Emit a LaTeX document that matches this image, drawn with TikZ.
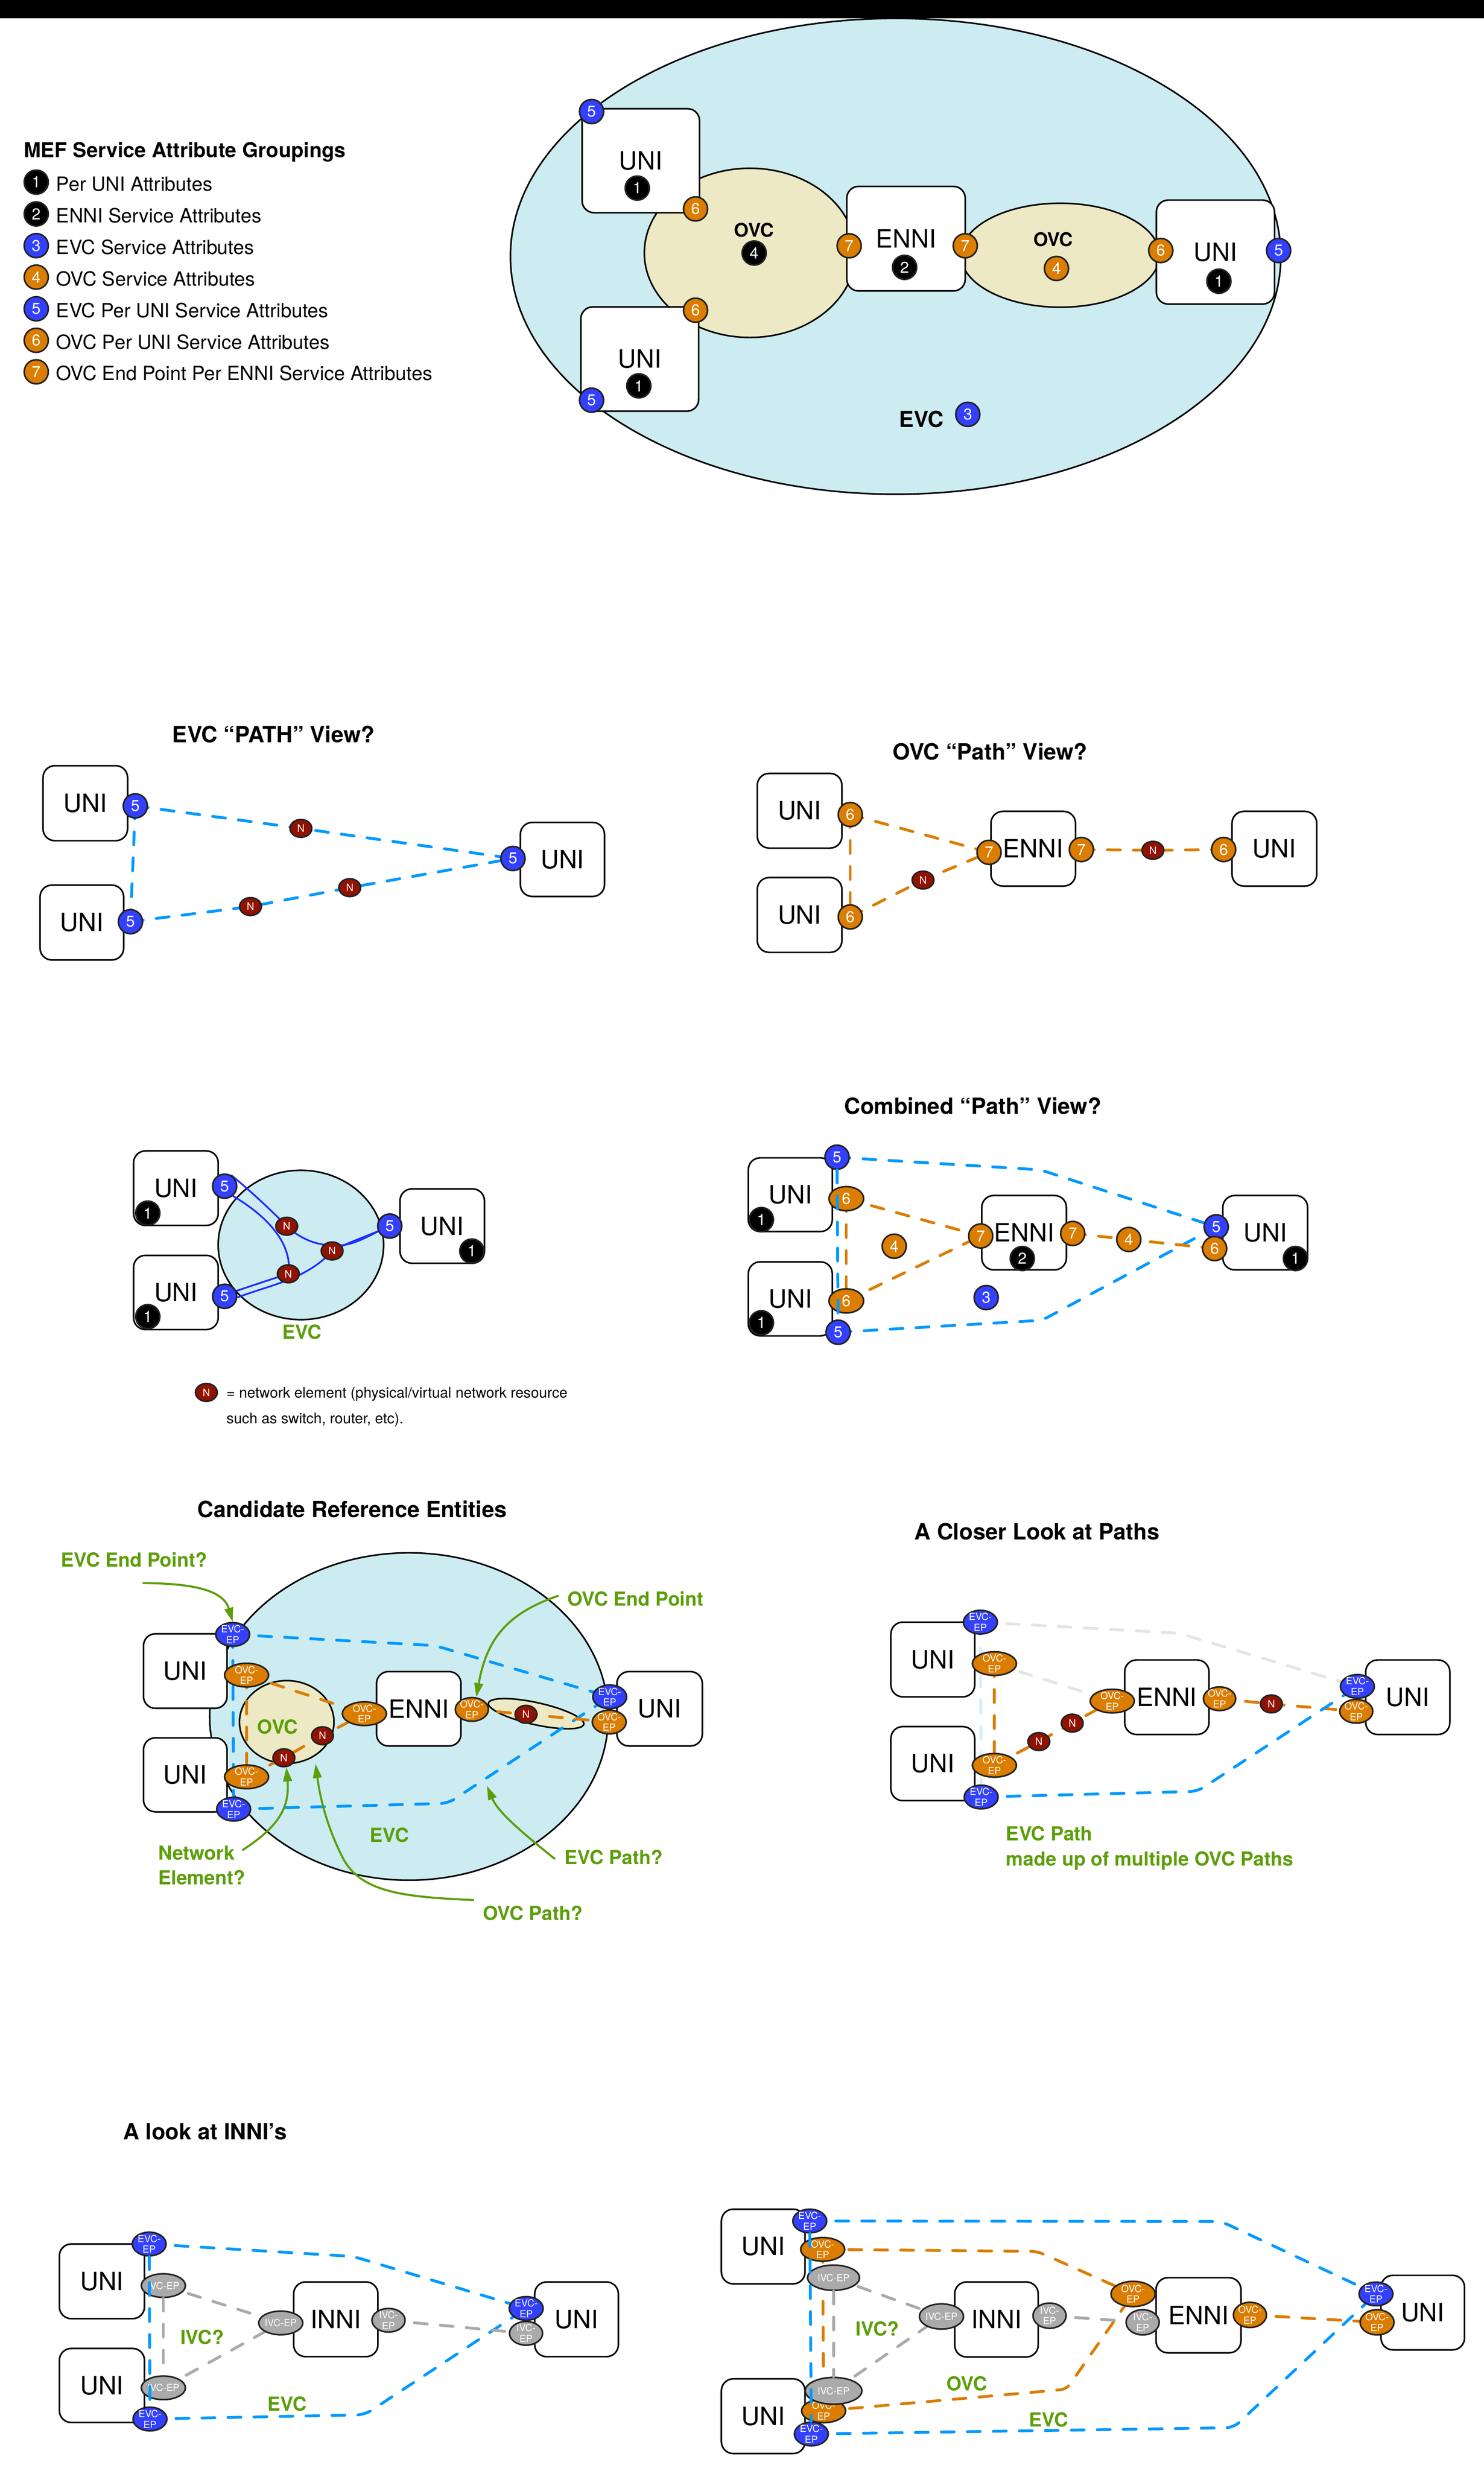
\documentclass[tikz,border=0pt]{standalone}
\usepackage{fontspec}
\setmainfont{TeX Gyre Heros}
\usetikzlibrary{shapes.geometric,arrows.meta}
\definecolor{evcfill}{RGB}{205,236,241}
\definecolor{ovcfill}{RGB}{237,233,197}
\definecolor{bblue}{RGB}{51,64,255}
\definecolor{borange}{RGB}{219,125,0}
\definecolor{nred}{RGB}{145,18,0}
\definecolor{dblue}{RGB}{0,153,255}
\definecolor{lgreen}{RGB}{92,158,10}
\definecolor{ivcgrey}{RGB}{170,170,170}
\definecolor{lgrey}{RGB}{228,228,228}
\definecolor{lblue}{RGB}{214,236,250}
\definecolor{bord}{RGB}{34,34,34}
\definecolor{cblue}{RGB}{30,45,255}
\pgfdeclarelayer{bg}
\pgfdeclarelayer{ln}
\pgfsetlayers{bg,ln,main}
\tikzset{
 box/.style={draw=black, line width=1pt, fill=white, rounded corners=7.5pt, inner sep=0pt, font=\fontsize{16}{16}\selectfont},
 badge/.style={circle, draw=bord, line width=1pt, inner sep=0pt, minimum size=15.3pt, text=white, font=\fontsize{10}{10}\selectfont},
 bk/.style={badge, fill=black},
 bb/.style={badge, fill=bblue},
 bo/.style={badge, fill=borange},
 boe/.style={badge, ellipse, fill=borange, minimum width=22pt, minimum height=15.3pt},
 nel/.style={ellipse, draw=bord, line width=1pt, fill=nred, inner sep=0pt, minimum width=13.8pt, minimum height=11.3pt, text=white, font=\fontsize{6.5}{6.5}\selectfont},
 eptxt/.style={text=white, font=\fontsize{6.2}{6.8}\selectfont, align=center, inner sep=0pt},
 ep/.style={ellipse, draw=bord, line width=1pt, inner sep=0pt, minimum height=15pt},
 evcep/.style={ep, fill=bblue, minimum width=21.5pt, label={[eptxt]center:{EVC-\\EP}}},
 ovcep/.style={ep, fill=borange, minimum width=#1, label={[eptxt]center:{OVC-\\EP}}},
 ovcep/.default=28pt,
 ivcone/.style={ep, fill=ivcgrey, minimum width=#1, label={[eptxt]center:{IVC-EP}}},
 ivcone/.default=28pt,
 ivctwo/.style={ep, fill=ivcgrey, minimum width=21pt, label={[eptxt]center:{IVC-\\EP}}},
 dsh/.style={line width=1.8pt, line cap=round, dash pattern=on 8.2pt off 8.3pt},
 evcd/.style={dsh, draw=dblue},
 ovcd/.style={dsh, draw=borange},
 ivcd/.style={dsh, draw=ivcgrey},
 lgd/.style={dsh, draw=lgrey},
 lbd/.style={dsh, draw=lblue},
 curv/.style={draw=cblue, line width=1.1pt},
 ttl/.style={font=\fontsize{14.2}{14.2}\selectfont\bfseries, inner sep=0pt},
 glab/.style={text=lgreen, font=\fontsize{12.3}{14}\selectfont\bfseries, inner sep=0pt},
 blab/.style={font=\fontsize{12}{12}\selectfont\bfseries, inner sep=0pt},
 lgtxt/.style={anchor=base west, inner sep=0pt, font=\fontsize{12.4}{12.4}\selectfont},
 region/.style={ellipse, draw=black, line width=1pt, inner sep=0pt},
 garrow/.style={draw=lgreen, line width=1.3pt, -{Triangle[length=9pt,width=5.5pt]}},
}
\begin{document}
\begin{tikzpicture}[x=1pt,y=-1pt]
\useasboundingbox (0,0) rectangle (941.85,1568.4);
\begin{pgfonlayer}{bg}
 \fill[black] (0,0) rectangle (941.85,11.6);
 \node[region, fill=evcfill, minimum width=489pt, minimum height=302pt] (tEVC) at (568.5,162.7) {};
 \node[region, fill=ovcfill, minimum width=134pt, minimum height=107.4pt] (tOVC1) at (476,160.5) {};
 \node[region, fill=ovcfill, minimum width=126pt, minimum height=66pt] (tOVC2) at (673,162) {};
 \node[region, fill=evcfill, minimum width=105pt, minimum height=94.8pt] (rEVC) at (191,790.2) {};
 \node[region, fill=evcfill, minimum width=253pt, minimum height=207.8pt] (cEVC) at (259.6,1089.5) {};
 \node[region, fill=ovcfill, minimum width=60pt, minimum height=52.6pt] (cOVC) at (182,1093) {};
 \node[region, fill=ovcfill, minimum width=62pt, minimum height=14pt, rotate=-12.5] (cOVC2) at (340.3,1087.7) {};
\end{pgfonlayer}

% ---------------- legend
\node[font=\fontsize{13}{13}\selectfont\bfseries, inner sep=0pt, anchor=base west] (lgT) at (15,100) {MEF Service Attribute Groupings};
\node[bk] (lg1) at (23,115.6) {1};
\node[lgtxt] (lgt1) at (35.5,121.1) {Per UNI Attributes};
\node[bk] (lg2) at (23,135.8) {2};
\node[lgtxt] (lgt2) at (35.5,141.3) {ENNI Service Attributes};
\node[bb] (lg3) at (23,155.9) {3};
\node[lgtxt] (lgt3) at (35.5,161.4) {EVC Service Attributes};
\node[bo] (lg4) at (23,175.9) {4};
\node[lgtxt] (lgt4) at (35.5,181.4) {OVC Service Attributes};
\node[bb] (lg5) at (23,196) {5};
\node[lgtxt] (lgt5) at (35.5,201.5) {EVC Per UNI Service Attributes};
\node[bo] (lg6) at (23,216) {6};
\node[lgtxt] (lgt6) at (35.5,221.5) {OVC Per UNI Service Attributes};
\node[bo] (lg7) at (23,236) {7};
\node[lgtxt] (lgt7) at (35.5,241.5) {OVC End Point Per ENNI Service Attributes};

% ---------------- top diagram
\node[box, minimum width=74.5pt, minimum height=66pt] (tU1) at (406.75,102) {UNI};
\node[box, minimum width=74.8pt, minimum height=66.2pt] (tU2) at (406.1,227.9) {UNI};
\node[box, minimum width=75.2pt, minimum height=66.4pt] (tE) at (575.1,151.5) {ENNI};
\node[box, minimum width=75pt, minimum height=66pt] (tU3) at (771.5,160) {UNI};
\node[bb] (t5a) at (375.5,70.8) {5};
\node[bk] (t1a) at (404.5,119.4) {1};
\node[bo] (t6a) at (441.5,132.6) {6};
\node[blab] (tOt1) at (478.7,145.9) {OVC};
\node[bk] (t4a) at (478.7,160.6) {4};
\node[bo] (t7a) at (539,156) {7};
\node[bk] (t2) at (574.2,169.7) {2};
\node[bo] (t7b) at (612.7,156) {7};
\node[blab] (tOt2) at (668.5,152) {OVC};
\node[bo] (t4b) at (670.6,170.4) {4};
\node[bo] (t6c) at (736.8,159) {6};
\node[bk] (t1c) at (773.7,178.5) {1};
\node[bb] (t5c) at (811.6,159) {5};
\node[bk] (t1b) at (405.5,244.9) {1};
\node[bb] (t5b) at (375.5,254) {5};
\node[bo] (t6b) at (441.5,196.9) {6};
\node[blab, font=\fontsize{14}{14}\selectfont\bfseries] (tEt) at (585,266) {EVC};
\node[bb] (t3) at (614.3,263) {3};

% ---------------- EVC PATH view
\node[ttl] (ttl2) at (173.6,466) {EVC “PATH” View?};
\node[box, minimum width=53.7pt, minimum height=47.6pt] (eU1) at (54.15,509.8) {UNI};
\node[box, minimum width=53.1pt, minimum height=47.5pt] (eU2) at (51.95,585.55) {UNI};
\node[box, minimum width=53.4pt, minimum height=47pt] (eU3) at (357,545.5) {UNI};
\node[bb] (e5a) at (85.9,511.5) {5};
\node[bb] (e5b) at (82.8,585) {5};
\node[bb] (e5c) at (325.6,544.9) {5};
\node[nel] (eN1) at (191,525.8) {N};
\node[nel] (eN2) at (222,563.4) {N};
\node[nel] (eN3) at (159,575.4) {N};
\begin{pgfonlayer}{ln}
 \draw[evcd] (e5a.center) -- (eN1.center) -- (e5c.center);
 \draw[evcd] (e5b.center) -- (eN3.center) -- (eN2.center) -- (e5c.center);
 \draw[evcd] (e5a.center) -- (e5b.center);
\end{pgfonlayer}

% ---------------- OVC Path view
\node[ttl] (ttl3) at (628.5,477) {OVC “Path” View?};
\node[box, minimum width=53.7pt, minimum height=47.4pt] (oU1) at (507.55,514.6) {UNI};
\node[box, minimum width=53.7pt, minimum height=47.5pt] (oU2) at (507.55,580.75) {UNI};
\node[box, minimum width=53.7pt, minimum height=47.4pt] (oE) at (655.85,538.7) {ENNI};
\node[box, minimum width=53.8pt, minimum height=47.4pt] (oU3) at (808.9,538.7) {UNI};
\node[bo] (o6a) at (539.7,517) {6};
\node[bo] (o6b) at (539.7,582) {6};
\node[bo] (o7a) at (627.8,541) {7};
\node[bo] (o7b) at (686.4,539.2) {7};
\node[nel] (oN1) at (731.8,539.7) {N};
\node[nel] (oN2) at (585.9,558.6) {N};
\node[bo] (o6c) at (776.7,539.2) {6};
\begin{pgfonlayer}{ln}
 \draw[ovcd] (o6a.center) -- (o7a.center);
 \draw[ovcd] (o6b.center) -- (oN2.center) -- (o7a.center);
 \draw[ovcd] (o7b.center) -- (oN1.center) -- (o6c.center);
 \draw[ovcd] (o6a.center) -- (o6b.center);
\end{pgfonlayer}

% ---------------- EVC with network elements
\node[box, minimum width=53.7pt, minimum height=47.3pt] (rU1) at (111.65,754.15) {UNI};
\node[box, minimum width=53.7pt, minimum height=47.1pt] (rU2) at (111.65,820.35) {UNI};
\node[box, minimum width=53.6pt, minimum height=47.2pt] (rU3) at (280.7,778.2) {UNI};
\node[bk] (r1a) at (93.8,770) {1};
\node[bb] (r5a) at (142.6,752.9) {5};
\node[bk] (r1b) at (93.8,835.7) {1};
\node[bb] (r5b) at (142.6,822.8) {5};
\node[bk] (r1c) at (299.5,794.1) {1};
\node[bb] (r5c) at (247.4,778.2) {5};
\node[nel] (rN1) at (182,778.3) {N};
\node[nel] (rN2) at (210.8,794) {N};
\node[nel] (rN3) at (183,808.5) {N};
\coordinate (rw1) at (217,790.3);
\begin{pgfonlayer}{ln}
 \draw[curv] (r5a.60) .. controls (158,755) and (172,768) .. (rN1.center) .. controls (195,790) and (207,791) .. (rw1) .. controls (227,789.5) and (236,783) .. (r5c.center);
 \draw[curv] (r5a.-50) .. controls (170,772) and (186,790) .. (rN3.center);
 \draw[curv] (r5b.25) .. controls (160,816) and (172,812) .. (rN3.center);
 \draw[curv] (r5b.-5) .. controls (170,816) and (195,812) .. (rN2.center) .. controls (222,788) and (235,784) .. (r5c.center);
\end{pgfonlayer}
\node[glab] (rEt) at (191.7,845.4) {EVC};
\node[nel] (lgN) at (131,883.8) {N};
\node[anchor=base west, inner sep=0pt, font=\fontsize{9.3}{9.3}\selectfont] (lgNt1) at (143.6,887.2) {= network element (physical/virtual network resource};
\node[anchor=base west, inner sep=0pt, font=\fontsize{9.3}{9.3}\selectfont] (lgNt2) at (143.6,903.4) {such as switch, router, etc).};

% ---------------- Combined path view
\node[ttl] (ttl5) at (617.5,702) {Combined “Path” View?};
\node[box, minimum width=53.3pt, minimum height=46.8pt] (sU1) at (501.65,758.3) {UNI};
\node[box, minimum width=53.3pt, minimum height=47pt] (sU2) at (501.65,824.4) {UNI};
\node[box, minimum width=53.7pt, minimum height=47.2pt] (sE) at (650.05,782.4) {ENNI};
\node[box, minimum width=53.8pt, minimum height=47.2pt] (sU3) at (803.1,782.4) {UNI};
\node[bb] (s5t) at (531.3,734.5) {5};
\node[boe] (s6t) at (537.2,760.8) {6};
\node[bk] (s1a) at (483.3,774.1) {1};
\node[bk] (s1b) at (483.3,839.6) {1};
\node[boe] (s6b) at (537.2,825.7) {6};
\node[bb] (s5b) at (532,845.6) {5};
\node[bo] (s4a) at (567.6,791) {4};
\node[bb] (s3) at (626,823.6) {3};
\node[bo] (s7a) at (622.5,784.5) {7};
\node[bo] (s7b) at (680.9,782.9) {7};
\node[bk] (s2) at (648.9,798.8) {2};
\node[bo] (s4b) at (716.5,786.7) {4};
\node[bb] (s5c) at (772,778.7) {5};
\node[bo] (s6c) at (771,792.5) {6};
\node[bk] (s1c) at (822.3,798.8) {1};
\coordinate (sc1) at (660.3,742.5);
\coordinate (sc2) at (661.4,838);
\begin{pgfonlayer}{ln}
 \draw[evcd, rounded corners=4pt] (s5t.center) -- (sc1) -- (s5c.center);
 \draw[evcd, rounded corners=4pt] (s5b.center) -- (sc2) -- (s5c.center);
 \draw[ovcd] (s6t.center) -- (s7a.center);
 \draw[ovcd] (s6b.center) -- (s7a.center);
 \draw[ovcd] (s7b.center) -- (s4b.center) -- (s6c.center);
 \draw[ovcd] (s6t.center) -- (s6b.center);
\end{pgfonlayer}
\draw[evcd] (s5t) -- (s5b);

% ---------------- Candidate reference entities
\node[ttl] (ttl6) at (223.5,958) {Candidate Reference Entities};
\node[box, minimum width=53pt, minimum height=47.3pt] (cU1) at (117.6,1060.65) {UNI};
\node[box, minimum width=53pt, minimum height=47pt] (cU2) at (117.6,1126.5) {UNI};
\node[box, minimum width=53.6pt, minimum height=47.2pt] (cE) at (265.8,1084.6) {ENNI};
\node[box, minimum width=54.2pt, minimum height=47.2pt] (cU3) at (418.7,1084.6) {UNI};
\node[evcep] (cEa) at (147.7,1037.4) {};
\node[ovcep] (cOa) at (156.5,1063.2) {};
\node[ovcep] (cOb) at (156.5,1127.8) {};
\node[evcep] (cEb) at (148.3,1148.3) {};
\node[nel] (cN1) at (204.7,1101.7) {N};
\node[nel] (cN2) at (180.2,1115.7) {N};
\node[ovcep] (cO1) at (231.3,1087.7) {};
\node[ovcep=21pt] (cO2) at (299.5,1085) {};
\node[nel] (cN3) at (333.9,1088.1) {N};
\node[evcep] (cEc) at (387,1077) {};
\node[ovcep=21.5pt] (cOc) at (386.7,1093) {};
\coordinate (cc1) at (276.2,1044.5);
\coordinate (cc2) at (284.4,1144.6);
\begin{pgfonlayer}{ln}
 \draw[evcd, rounded corners=5pt] (cEa.center) -- (cc1) -- (cEc.center);
 \draw[evcd, rounded corners=5pt] (cEb.center) -- (cc2) -- (cEc.center);
 \draw[evcd] (cEa.center) -- (cEb.center);
 \draw[ovcd] (cOa.center) -- (cO1.center);
 \draw[ovcd] (cOb.center) -- (cN2.center) -- (cN1.center) -- (cO1.center);
 \draw[ovcd] (cOa.center) -- (cOb.center);
 \draw[ovcd] (cO2.center) -- (cN3.center) -- (cOc.center);
\end{pgfonlayer}
\node[glab] (cOt) at (176.3,1096) {OVC};
\node[glab] (cEt) at (247.3,1164.6) {EVC};
\node[glab, anchor=west] (gl1) at (38.4,989.9) {EVC End Point?};
\node[glab, anchor=west] (gl2) at (360,1014.7) {OVC End Point};
\node[glab, anchor=base west] (gl3) at (100.2,1180.5) {Network};
\node[glab, anchor=base west] (gl3b) at (100.2,1196.1) {Element?};
\node[glab, anchor=base west] (gl4) at (358.1,1183.3) {EVC Path?};
\node[glab, anchor=base west] (gl5) at (306.4,1218.7) {OVC Path?};
\coordinate (aS1) at (90.5,1004.8);
\coordinate (aS2) at (354.5,1012.8);
\coordinate (aS3) at (153.8,1174.4);
\coordinate (aS4) at (352.3,1180);
\coordinate (aE4) at (309.1,1133.4);
\coordinate (aS5) at (300.9,1206);
\coordinate (aE5) at (200.3,1119.5);
\draw[garrow] (aS1) .. controls (125,1005) and (142,1010) .. (cEa.north);
\draw[garrow] (aS2) .. controls (322,1024) and (309,1040) .. (cO2.70);
\draw[garrow] (aS3) .. controls (176,1160) and (184,1148) .. (cN2.-75);
\draw[garrow] (aS4) .. controls (330,1162) and (316,1150) .. (aE4);
\draw[garrow] (aS5) .. controls (255,1204) and (228,1201) .. (217,1178) .. controls (207,1158) and (203,1140) .. (aE5);

% ---------------- A closer look at paths
\node[ttl] (ttl7) at (658.3,972.2) {A Closer Look at Paths};
\node[box, minimum width=53.2pt, minimum height=47.4pt] (kU1) at (592.1,1053.3) {UNI};
\node[box, minimum width=53.2pt, minimum height=47pt] (kU2) at (592.1,1119.4) {UNI};
\node[box, minimum width=53.5pt, minimum height=47.3pt] (kE) at (740.65,1077.25) {ENNI};
\node[box, minimum width=53.4pt, minimum height=47.3pt] (kU3) at (893.6,1077.25) {UNI};
\node[evcep] (kEa) at (622.3,1029.6) {};
\node[ovcep] (kOa) at (631.2,1055.9) {};
\node[ovcep] (kOb) at (631.2,1120.5) {};
\node[evcep] (kEb) at (622.8,1140.6) {};
\node[nel] (kN1) at (659.4,1105.4) {N};
\node[nel] (kN2) at (680.6,1093.7) {N};
\node[ovcep] (kO1) at (706,1079.7) {};
\node[ovcep=20.5pt] (kO2) at (774.1,1078.2) {};
\node[nel] (kN3) at (807,1081.5) {N};
\node[evcep] (kEc) at (861.6,1070.4) {};
\node[ovcep=21pt] (kOc) at (860.9,1086.2) {};
\coordinate (kc1) at (748.1,1036.6);
\coordinate (kc2) at (760.2,1137);
\begin{pgfonlayer}{ln}
 \draw[lgd, rounded corners=5pt] (kEa.center) -- (kc1) -- (kEc.center);
 \draw[lgd] (kOa.center) -- (kO1.center);
 \draw[lbd] (kEa.center) -- (kEb.center);
 \draw[ovcd] (kOa.center) -- (kOb.center);
 \draw[ovcd] (kOb.center) -- (kN1.center) -- (kN2.center) -- (kO1.center);
 \draw[ovcd] (kO2.center) -- (kN3.center) -- (kOc.center);
 \draw[evcd, rounded corners=5pt] (kEb.center) -- (kc2) -- (kEc.center);
\end{pgfonlayer}
\node[glab, anchor=base west] (kt1) at (638.4,1168.3) {EVC Path};
\node[glab, anchor=base west] (kt2) at (638.4,1184.3) {made up of multiple OVC Paths};

% ---------------- A look at INNI's (left)
\node[ttl, anchor=west] (ttl8) at (78,1352.9) {A look at INNI’s};
\node[box, minimum width=54pt, minimum height=47.4pt] (iU1) at (64.7,1448) {UNI};
\node[box, minimum width=54pt, minimum height=47pt] (iU2) at (64.7,1514.1) {UNI};
\node[box, minimum width=53.5pt, minimum height=47.4pt] (iI) at (213.15,1472.1) {INNI};
\node[box, minimum width=53.1pt, minimum height=47.4pt] (iU3) at (365.95,1472.1) {UNI};
\node[evcep] (iEa) at (94.7,1424.3) {};
\node[ivcone] (iVa) at (103.7,1450.7) {};
\node[ivcone] (iVb) at (103.7,1515.6) {};
\node[evcep] (iEb) at (95.2,1535.4) {};
\node[ivcone] (iV1) at (178.2,1474.4) {};
\node[ivctwo] (iV2) at (246.6,1472.7) {};
\node[evcep] (iEc) at (334,1465.2) {};
\node[ivctwo] (iVc) at (333.9,1481) {};
\coordinate (ic1) at (224.3,1432.2);
\coordinate (ic2) at (231.5,1532.7);
\begin{pgfonlayer}{ln}
 \draw[evcd, rounded corners=5pt] (iEa.center) -- (ic1) -- (iEc.center);
 \draw[evcd, rounded corners=5pt] (iEb.center) -- (ic2) -- (iEc.center);
 \draw[ivcd] (iVa.center) -- (iV1.center);
 \draw[ivcd] (iVb.center) -- (iV1.center);
 \draw[ivcd] (iV2.center) -- (iVc.center);
\end{pgfonlayer}
\draw[ivcd] (iVa) -- (iVb);
\draw[evcd] (iEa) -- (iEb);
\node[glab] (it1) at (128.3,1483.5) {IVC?};
\node[glab] (it2) at (182.3,1525.7) {EVC};

% ---------------- INNI + ENNI (right)
\node[box, minimum width=53.1pt, minimum height=47.4pt] (jU1) at (484.45,1425.9) {UNI};
\node[box, minimum width=53.1pt, minimum height=47.4pt] (jU2) at (484.45,1533.6) {UNI};
\node[box, minimum width=53pt, minimum height=47.6pt] (jI) at (632.5,1472.2) {INNI};
\node[box, minimum width=53.9pt, minimum height=47.7pt] (jE) at (760.75,1469.55) {ENNI};
\node[box, minimum width=53pt, minimum height=47.3pt] (jU3) at (903.1,1467.85) {UNI};
\node[evcep] (jEa) at (514,1409.7) {};
\node[ovcep] (jOa) at (522.2,1427.7) {};
\node[ivcone=33pt, minimum height=16pt] (jVa) at (529.1,1445.7) {};
\node[ovcep] (jOb) at (522.8,1530.2) {};
\node[ivcone=36pt, minimum height=17pt] (jVb) at (529.1,1517.5) {};
\node[evcep] (jEb) at (515,1544.9) {};
\node[ivcone, minimum height=16pt] (jV1) at (597.6,1470.3) {};
\node[ivctwo, minimum height=16pt] (jV2) at (666.2,1469.8) {};
\node[ovcep, minimum height=16pt] (jO1) at (719.2,1456) {};
\node[ivctwo, minimum height=16pt] (jV3) at (725.3,1474) {};
\node[ovcep=21pt, minimum height=16pt] (jO2) at (793.4,1469.3) {};
\node[evcep] (jEc) at (873.4,1456) {};
\node[ovcep=21.5pt, minimum height=16pt] (jOc) at (874.1,1474) {};
\coordinate (jc1) at (775.2,1410);
\coordinate (jc2) at (783,1540.9);
\coordinate (jc3) at (658.4,1429);
\coordinate (jc4) at (677,1516.5);
\begin{pgfonlayer}{ln}
 \draw[evcd, rounded corners=5pt] (jEa.center) -- (jc1) -- (jEc.center);
 \draw[evcd, rounded corners=5pt] (jEb.center) -- (jc2) -- (jEc.center);
 \draw[ovcd, rounded corners=4pt] (jOa.center) -- (jc3) -- (jO1.center);
 \draw[ovcd, rounded corners=4pt] (jOb.center) -- (jc4) -- (jO1.center);
 \draw[ovcd] (jO2.center) -- (jOc.center);
 \draw[ivcd] (jVa.center) -- (jV1.center);
 \draw[ivcd] (jVb.center) -- (jV1.center);
 \draw[ivcd] (jV2.center) -- (jV3.center);
 \draw[ovcd] (jOa.center) -- (jOb.center);
\end{pgfonlayer}
\draw[ivcd] (jVa) -- (jVb);
\draw[evcd] (jEa) -- (jEb);
\node[glab] (jt1) at (557,1478.2) {IVC?};
\node[glab] (jt2) at (613.8,1512.8) {OVC};
\node[glab] (jt3) at (665.6,1535.8) {EVC};
\end{tikzpicture}
\end{document}
